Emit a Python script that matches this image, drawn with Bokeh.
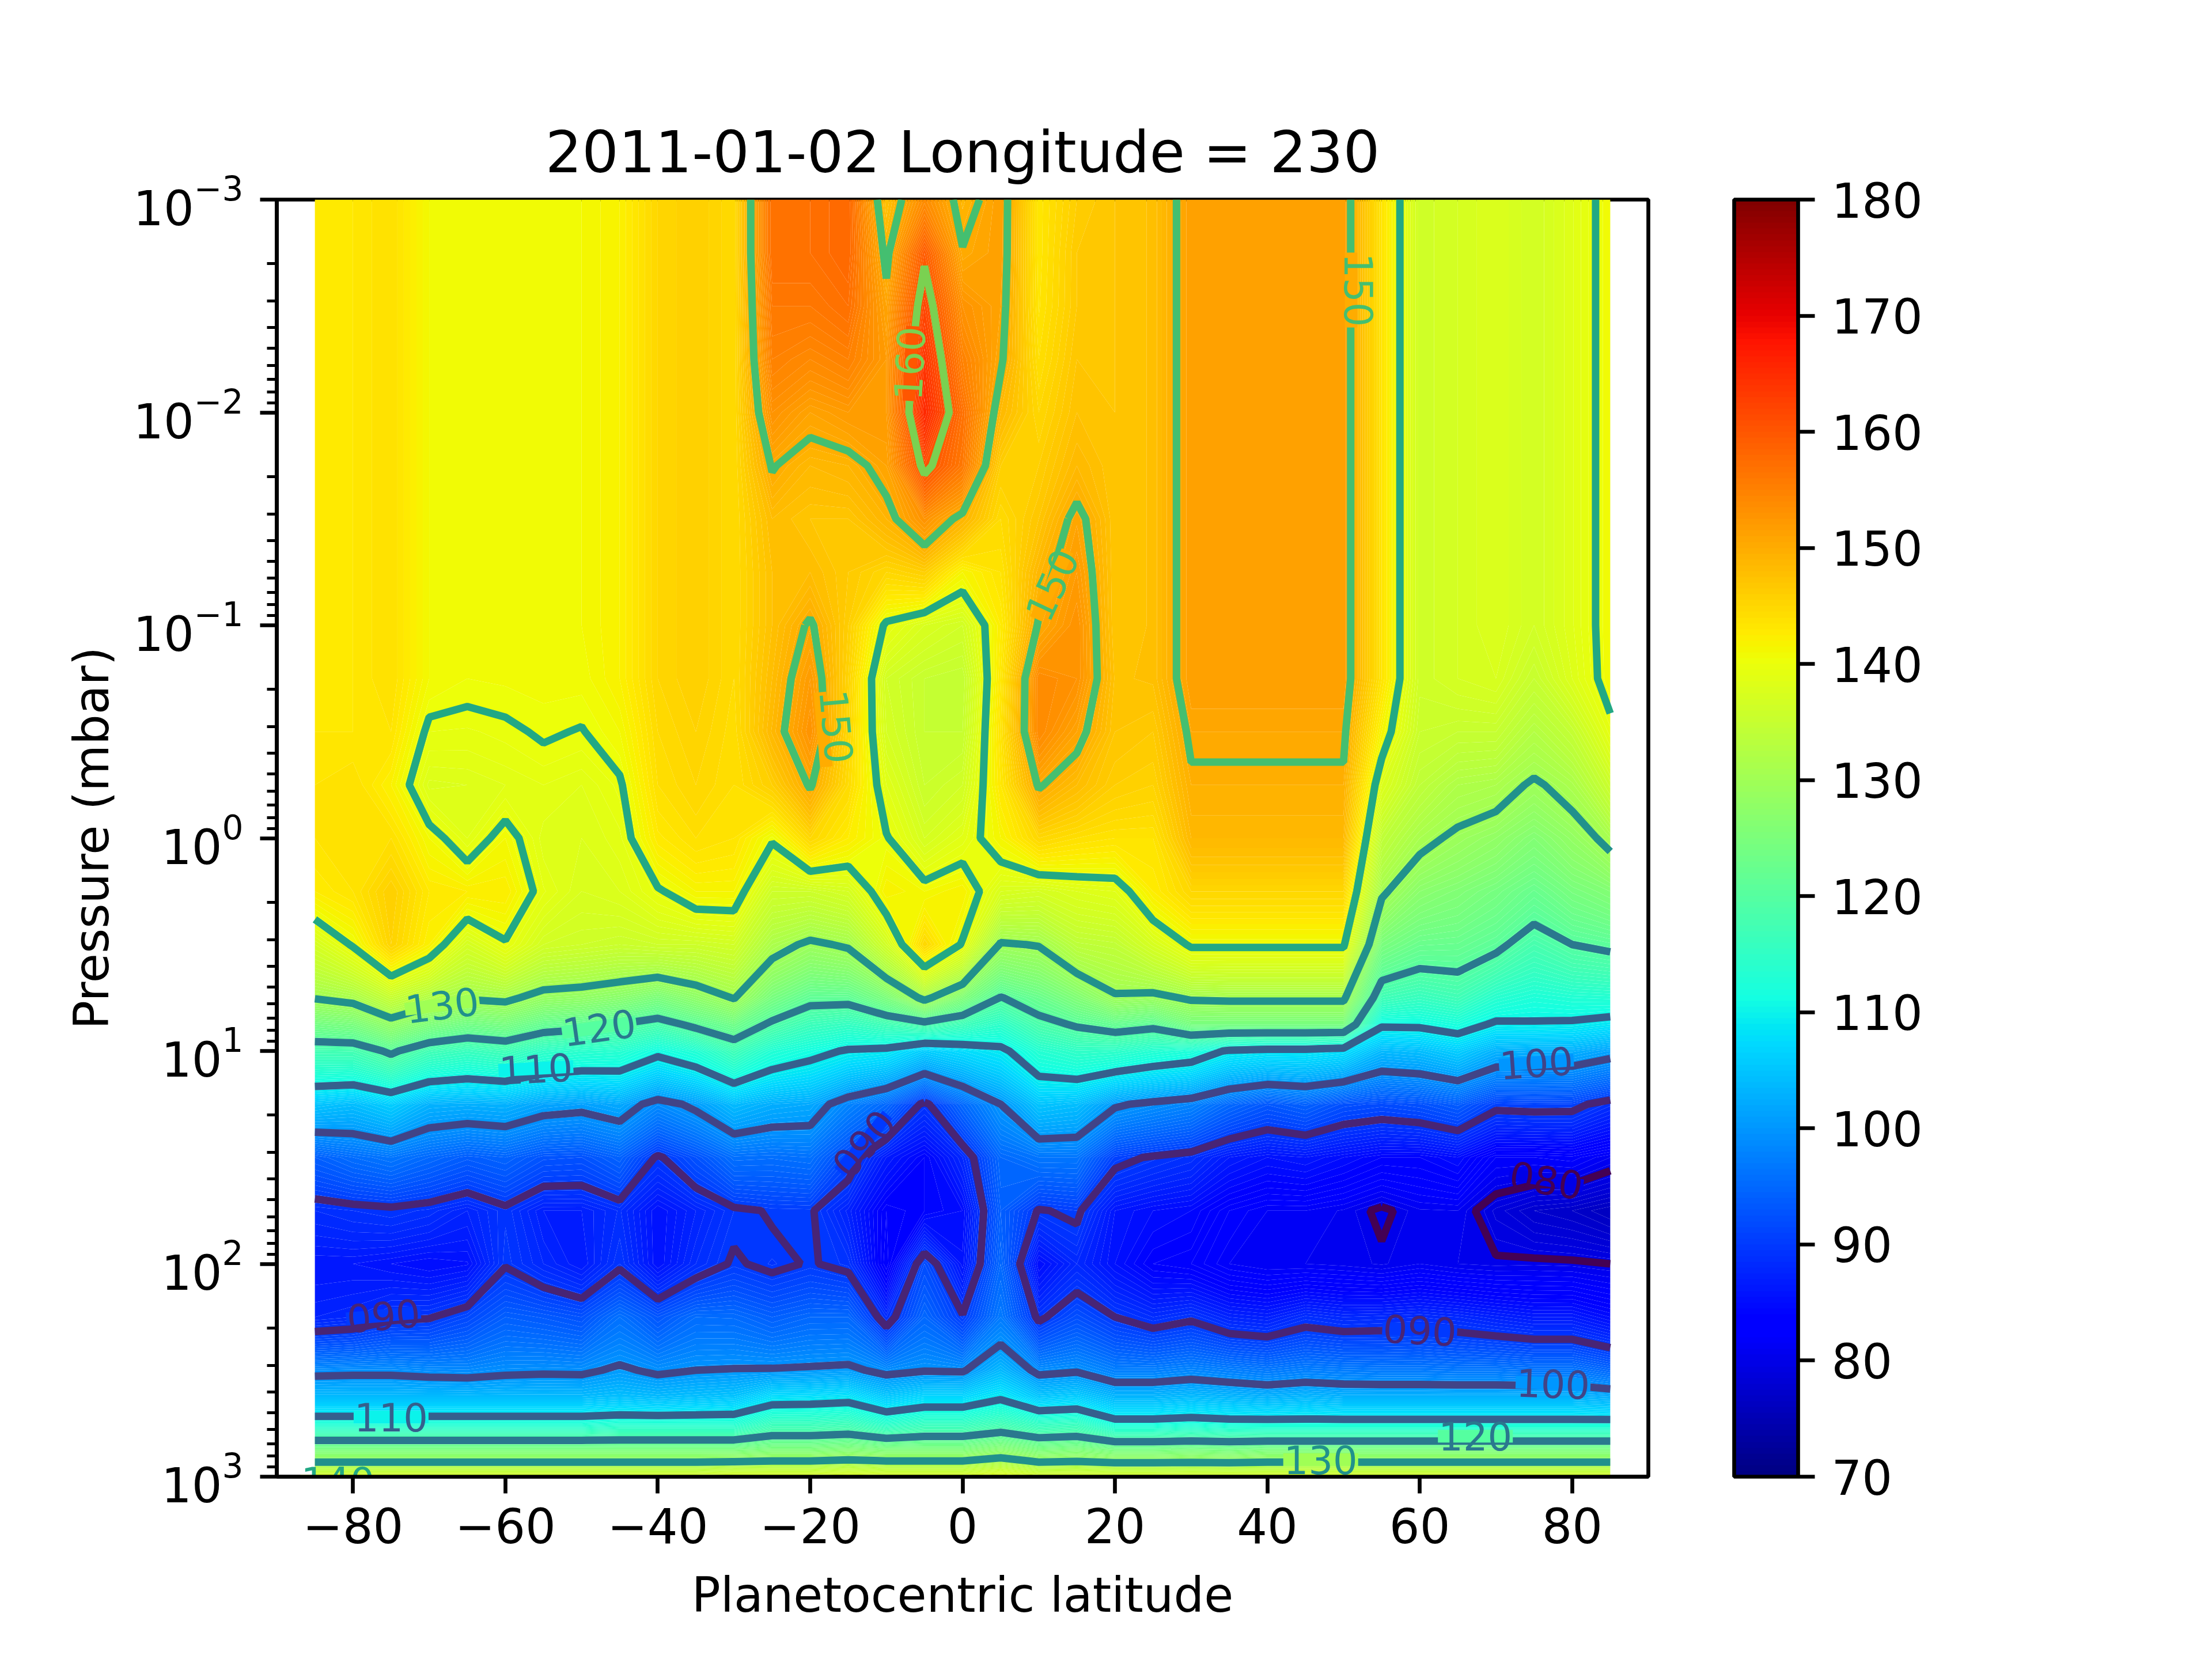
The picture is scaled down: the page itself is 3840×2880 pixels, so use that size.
from bokeh.core.properties import value
from bokeh.embed import file_html
from bokeh.models import ColorBar, ColumnDataSource, FixedTicker, LinearColorMapper, Range1d
from bokeh.plotting import figure
from bokeh.resources import INLINE
import numpy as np

# planetocentric latitude of each column
lats = [-85, -80, -75, -70, -65, -60, -55, -50, -45, -40, -35, -30, -25, -20, -15, -10, -5, 0,
        5, 10, 15, 20, 25, 30, 35, 40, 45, 50, 55, 60, 65, 70, 75, 80, 85]
# log10(pressure in mbar) of each row
log_p = [-3, -2.75, -2.5, -2.25, -2, -1.75, -1.5, -1.25, -1, -0.75, -0.5, -0.25, 0, 0.25, 0.5, 0.75,
         0.875, 1, 1.25, 1.5, 1.75, 2, 2.25, 2.5, 2.625, 2.75, 2.875, 3]

# temperature (K), one list per latitude
t_m85 = [143, 143, 143, 143, 143, 143, 143, 143, 143, 143, 143, 143.5, 143.5, 142.5, 137, 130.2, 124, 117.5, 105, 94, 88.5, 86, 87.5, 99, 104, 112.5, 125, 137]
t_m80 = [143, 143, 143, 143, 143, 143, 143, 143, 143, 143, 143, 144, 144, 143.5, 140.3, 131.2, 124.8, 117.6, 104.2, 95.5, 89, 86, 88, 99.2, 104, 112.5, 125, 137]
t_m75 = [144, 144, 144, 144, 144, 144, 144, 144, 144, 144, 143.5, 142, 144, 146, 145.5, 135, 128.2, 120.7, 106, 96.5, 89.4, 85.5, 89.5, 99.2, 104, 112.5, 125, 137]
t_m70 = [141, 141, 141, 141, 141, 141, 141, 141, 141, 141, 139.5, 137.8, 141, 143, 142, 132.2, 125.3, 117.2, 103, 95, 88.8, 85, 89.8, 98.8, 104, 112.5, 125, 137]
t_m65 = [141, 141, 141, 141, 141, 141, 141, 141, 141, 140.5, 139.4, 138, 138.5, 142.5, 136.9, 130.4, 123.6, 116, 102.7, 93.7, 87.5, 85.4, 91.5, 98.6, 104, 112.5, 125, 137]
t_m60 = [141, 141, 141, 141, 141, 141, 141, 141, 141, 140.6, 139.7, 138.5, 141, 142.5, 139.7, 130.9, 124.4, 117, 103, 94.5, 89.4, 89.8, 94, 99.2, 104, 112.5, 125, 137]
t_m55 = [140.8, 140.8, 140.8, 140.8, 140.8, 140.8, 140.8, 140.8, 140.8, 140.7, 140.2, 139, 138.2, 139.1, 136.5, 128.5, 122, 114.8, 101.5, 92.7, 87, 88, 93.4, 99.4, 104, 112.5, 125, 137]
t_m50 = [141, 141, 141, 141, 141, 141, 141, 141, 141, 140.7, 139.9, 138.5, 138, 137.5, 136, 128, 121.3, 114, 101, 92.5, 87, 86.5, 92.5, 99.3, 104, 112.5, 125, 137]
t_m45 = [142, 142, 142, 142, 142, 142, 142, 142, 142, 142, 141, 139.7, 138.8, 138, 135.5, 126.9, 119.9, 113.6, 102, 94.4, 88.6, 89.5, 96, 100.6, 104.5, 113, 125, 137]
t_m40 = [145, 145, 145, 145, 145, 145, 145, 145, 145, 145, 144.5, 144, 142.8, 139.7, 136, 125, 118.3, 111, 98.6, 89.6, 85.5, 85.5, 93, 99.3, 104, 113, 125, 137]
t_m35 = [146, 146, 146, 146, 146, 146, 146, 146, 146, 146, 145.5, 145, 144, 141.5, 136, 127.5, 121, 113, 100.8, 92.5, 87.5, 88.5, 95.5, 100, 104.5, 113, 125, 137]
t_m30 = [144.5, 144.5, 144.5, 144.5, 144.5, 144.5, 144.5, 144.5, 144.5, 144.5, 144.2, 144, 143.5, 141.5, 136.5, 130.2, 123.5, 117, 104, 95.8, 89.5, 90.3, 95.4, 100.2, 105, 113, 125, 137.5]
t_m25 = [157, 157, 156, 155, 153, 150.2, 148, 147.5, 147.5, 148, 148.6, 146, 140.3, 136, 131.5, 124.5, 119.2, 113, 102.5, 95.6, 90.2, 89.4, 94, 100.3, 107.8, 116, 125.5, 137.5]
t_m20 = [157, 157, 156, 154, 151, 148.5, 147, 148, 150.4, 152, 153, 150.3, 145, 136, 129.3, 121.3, 116.5, 111.3, 102, 96, 90.3, 90.2, 95, 100.5, 108, 116, 125.5, 137.5]
t_m15 = [158, 158, 157, 155, 152, 149, 147, 146.5, 146, 145.5, 145.1, 144.5, 142.5, 137, 130.5, 121.3, 115.5, 109.6, 98, 91.5, 87.3, 89.3, 95, 100.8, 108.5, 116.5, 126, 138]
t_m10 = [147.5, 149.3, 151, 152, 152, 151, 149, 145, 139.5, 136.5, 137, 138.5, 140.2, 142, 136.5, 125, 117.1, 109, 95, 86.5, 83, 82.5, 88.5, 99, 105.5, 114, 125.5, 137.5]
t_m05 = [153.7, 159.5, 162, 164, 165.5, 161, 153, 146, 137.5, 135, 135, 135.5, 137, 141, 145, 131, 118.7, 105.9, 89.3, 84, 84, 92, 95, 99.8, 107, 115.5, 125.5, 137.5]
t_p00 = [148.8, 150.2, 153, 155, 157, 156, 149, 141.5, 136.5, 134.5, 135, 136.5, 138.7, 142, 139.7, 125.6, 116.7, 107.5, 95, 88, 85, 85.7, 90.3, 99.6, 107, 115.5, 125.5, 137.5]
t_p05 = [151.5, 151.4, 151, 150.4, 148.5, 146, 144.5, 143.5, 142.5, 143, 143.5, 143, 141.5, 137.5, 129.6, 119.8, 114.5, 109, 100, 95, 94, 95, 97, 103.8, 109.3, 117, 127, 138.5]
t_p10 = [143.2, 143.2, 143.4, 144, 145, 146, 147, 148.8, 150.3, 154, 154, 150.3, 145, 137, 130.2, 122.5, 118.5, 113.4, 105, 96.5, 89.8, 85, 89.4, 99, 105.3, 115, 125, 137]
t_p15 = [146, 146.5, 146.5, 147, 147.5, 148.5, 150.9, 152, 153, 153, 151, 148, 144, 138, 133.8, 125.7, 120.5, 114.9, 104.3, 96.5, 90.5, 88, 92.3, 99.6, 106, 115.5, 125.5, 137]
t_p20 = [147, 147, 147, 147, 147, 147, 147, 147, 147, 147.4, 147, 146, 143.5, 138.5, 134.3, 129.5, 122, 114.6, 100.5, 90.8, 86, 85.5, 90, 97.5, 103.5, 111.5, 124.5, 137]
t_p25 = [147.6, 147.6, 147.6, 147.6, 147.6, 147.6, 147.6, 147.6, 147.6, 147.6, 146.5, 145.5, 143.5, 142.5, 137.2, 129, 121.1, 113.3, 99.2, 89.7, 85, 83.5, 88.5, 97.5, 103.5, 111.5, 124.5, 137]
t_p30 = [151.5, 151.5, 151.5, 151.5, 151.5, 151.5, 151.5, 151.5, 151.5, 151.5, 150.5, 149.5, 148.5, 145, 140.4, 130.5, 124.5, 112.4, 98, 88.8, 84.5, 83, 89.5, 98.2, 104, 112, 124.8, 137]
t_p35 = [151.5, 151.5, 151.5, 151.5, 151.5, 151.5, 151.5, 151.5, 151.5, 151.5, 150.5, 149.5, 148.5, 145, 140.4, 130.7, 124.5, 109.5, 95, 86.5, 82.5, 81.5, 87.5, 97.5, 103.5, 111.5, 124.5, 137]
t_p40 = [151.5, 151.5, 151.5, 151.5, 151.5, 151.5, 151.5, 151.5, 151.5, 151.5, 150.5, 149.5, 148.5, 145, 140.4, 130.7, 124.5, 108.8, 93.1, 85.5, 81.5, 81, 87, 96.8, 103, 111.5, 125, 137]
t_p45 = [151.5, 151.5, 151.5, 151.5, 151.5, 151.5, 151.5, 151.5, 151.5, 151.5, 150.5, 149.5, 148.5, 145, 140.4, 130.7, 124.5, 108.8, 94.2, 86, 81.5, 81, 88.7, 97.5, 103.5, 111.5, 125, 137]
t_p50 = [151.5, 151.5, 151.5, 151.5, 151.5, 151.5, 151.5, 151.5, 151.5, 151.5, 150.5, 149.5, 148.5, 145, 140.4, 130.7, 124.5, 108, 92.3, 85, 80.9, 80.8, 88, 97.2, 103, 111.5, 125, 137]
t_p55 = [143.5, 143.5, 143.5, 143.5, 143.5, 143.5, 143.5, 143.5, 143.5, 143.5, 141.5, 138, 134.2, 130.6, 124.8, 117, 110.6, 103.8, 91.8, 84, 79.6, 80.4, 88.2, 97, 103, 111.5, 125, 137]
t_p60 = [136.2, 136.2, 136.2, 136.2, 136.2, 136.2, 136.2, 136.2, 136.2, 136.2, 135.5, 134, 131, 127, 122.6, 115.8, 110.7, 104.3, 92.4, 84, 80.9, 81, 88.5, 97, 103, 111.5, 125, 137]
t_p65 = [137, 137, 137, 137, 137, 137, 137, 137, 137, 137, 135, 132, 129.3, 125.8, 122.4, 117, 111.9, 106, 93.7, 85, 81, 80.5, 88, 96.8, 103, 111.5, 125, 137]
t_p70 = [138, 138, 138, 138, 138, 138, 138, 138, 138, 137.5, 135, 131.5, 128, 124.3, 120.9, 113.7, 109.4, 103, 90.8, 82, 78.8, 80.3, 87.2, 96.8, 103, 111.5, 125, 137]
t_p75 = [136.5, 136.5, 136.5, 136.5, 136.5, 136.5, 136.5, 136.5, 136.5, 135, 132.5, 129.5, 126, 122.4, 118, 112.4, 109.6, 102.7, 91, 82, 77.5, 80.4, 86.5, 96.5, 103, 111.5, 125, 137]
t_p80 = [138.4, 138.4, 138.4, 138.4, 138.4, 138.4, 138.4, 138.4, 138.4, 138, 134.7, 131.3, 128.2, 124.6, 120, 113, 109.4, 102.7, 90.9, 82.3, 77, 80.3, 86.5, 96.5, 103, 111.5, 125, 137]
t_p85 = [141, 141, 141, 141, 141, 141, 141, 141, 141, 141, 139.3, 135.7, 131, 126, 120.8, 113.2, 108.5, 101.4, 88.7, 81, 76, 80, 85, 94.9, 102.5, 111.5, 125, 137]

temps = np.array([t_m85, t_m80, t_m75, t_m70, t_m65, t_m60, t_m55, t_m50, t_m45, t_m40, t_m35, t_m30,
                  t_m25, t_m20, t_m15, t_m10, t_m05, t_p00, t_p05, t_p10, t_p15, t_p20, t_p25, t_p30,
                  t_p35, t_p40, t_p45, t_p50, t_p55, t_p60, t_p65, t_p70, t_p75, t_p80, t_p85]).T

# contour levels and their line colours
line_levels = [80, 90, 100, 110, 120, 130, 140, 150, 160]
line_colors = ["#440154", "#482475", "#414487", "#355f8d", "#2a788e", "#21918c", "#22a884", "#44bf70", "#7ad151"]

# inline contour labels, with where the gap in the line sits
label_lat = [-68.3, -47.7, -56, 75.3, -13, 76.6, -76, 60, 77.5, -75, 67.3, 47, -82, -16.5, -7, 11.7, 52]
label_logp = [0.783, 0.889, 1.082, 1.055, 1.434, 1.606, 2.243, 2.31, 2.562, 2.72, 2.81, 2.92, 3.02, -0.524, -2.23, -1.19, -2.575]
label_level = [130, 120, 110, 100, 90, 80, 90, 90, 100, 110, 120, 130, 140, 150, 160, 150, 150]
label_angle = [7, 8, 3, 4, 50, -9, 5, -3, -2, 0, 0, 0, 0, -85, 87, 65, -90]
gap_lat = [-68.3, -47.7, -56, 75.3, -13, 76.6, -76, 60, 77.5, -75, 67.3, 47, -82, -18.3, -6.8, 11.7, 51]
gap_logp = [0.783, 0.889, 1.082, 1.055, 1.434, 1.606, 2.243, 2.31, 2.562, 2.72, 2.81, 2.92, 3.02, -0.51, -2.23, -1.19, -2.575]

x_ticks = [-80, -60, -40, -20, 0, 20, 40, 60, 80]
bar_ticks = [70, 80, 90, 100, 110, 120, 130, 140, 150, 160, 170, 180]


def jet(frac):
    r = np.interp(frac, [0, 0.35, 0.66, 0.89, 1], [0, 0, 1, 1, 0.5])
    g = np.interp(frac, [0, 0.125, 0.375, 0.64, 0.91, 1], [0, 0, 1, 1, 0, 0])
    b = np.interp(frac, [0, 0.11, 0.34, 0.65, 1], [0.5, 1, 1, 0, 0])
    return "#%02x%02x%02x" % (int(r * 255), int(g * 255), int(b * 255))


FONT = "DejaVu Sans"
fill_levels = [70 + i * 0.5 for i in range(221)]
fill_colors = [jet((l + 0.25 - 70) / 110) for l in fill_levels[:-1]]
pressures = [10.0 ** v for v in log_p]

p = figure(frame_width=2381, frame_height=2217, min_border_left=480, min_border_right=963,
           min_border_top=346, min_border_bottom=301, x_range=Range1d(-90, 90),
           y_range=Range1d(1000, 0.001), y_axis_type="log", output_backend="svg", toolbar_location=None,
           title="2011-01-02 Longitude = 230", x_axis_label="Planetocentric latitude",
           y_axis_label="Pressure (mbar)")
p.grid.visible = False
p.outline_line_color = "black"
p.outline_line_width = 6.67
p.title.align = "center"
p.title.text_font = FONT
p.title.text_font_size = "75pt"
p.title.text_font_style = "normal"
p.title.text_color = "black"
p.title.standoff = 47

filled = p.contour(lats, pressures, temps, levels=fill_levels, fill_color=fill_colors, line_color=None)
# same colour outline so the bands leave no seams
filled.fill_renderer.glyph.line_color = filled.fill_renderer.glyph.fill_color
filled.fill_renderer.glyph.line_width = 1.5
lines = p.contour(lats, pressures, temps, levels=line_levels, fill_color=None, line_color=line_colors, line_width=13)

for axis in [p.xaxis[0], p.yaxis[0]]:
    axis.axis_line_width = 6.67
    axis.major_tick_line_width = 6.67
    axis.major_tick_out = 29
    axis.major_tick_in = 0
    axis.minor_tick_line_width = 5
    axis.minor_tick_out = 17
    axis.minor_tick_in = 0
    axis.major_label_standoff = 29
    axis.major_label_text_font = FONT
    axis.major_label_text_font_size = "83px"
    axis.major_label_text_color = "black"
    axis.axis_label_text_font = FONT
    axis.axis_label_text_font_size = "83px"
    axis.axis_label_text_font_style = "normal"
    axis.axis_label_text_color = "black"

p.xaxis[0].ticker = FixedTicker(ticks=x_ticks)
p.xaxis[0].major_label_overrides = {v: str(v).replace("-", "\u2212") for v in x_ticks}
p.xaxis[0].major_label_standoff = 24
p.xaxis[0].axis_label_standoff = 39
p.yaxis[0].axis_label_standoff = 20
p.yaxis[0].ticker.num_minor_ticks = 10
p.yaxis[0].major_label_orientation = "horizontal"
p.yaxis[0].major_label_text_line_height = 1.0

labels = ColumnDataSource(data=dict(
    x=label_lat,
    y=[10.0 ** v for v in label_logp],
    gap_x=gap_lat,
    gap_y=[10.0 ** v for v in gap_logp],
    text=["%03d" % l for l in label_level],
    angle=label_angle,
    color=[line_colors[line_levels.index(l)] for l in label_level],
    back=[jet((l - 70) / 110) for l in label_level],
))
# a thin strip in the local field colour opens the gap in the contour line under each label
p.rect("gap_x", "gap_y", width=130, height=22, width_units="screen", height_units="screen", angle="angle",
       angle_units="deg", source=labels, fill_color="back", line_color=None)
p.text("x", "y", text="text", angle="angle", angle_units="deg", source=labels, text_color="color",
       text_font=value(FONT), text_font_size="67px", text_align="center", text_baseline="middle")

bar = ColorBar(color_mapper=LinearColorMapper(palette=fill_colors, low=70, high=180),
               ticker=FixedTicker(ticks=bar_ticks), width=111, location=(149, 0), margin=0, padding=0,
               bar_line_color="black", bar_line_width=6.67, border_line_color=None,
               background_fill_color=None, major_tick_line_color="black", major_tick_line_width=6.67,
               major_tick_in=0, major_tick_out=29, minor_tick_line_color=None, label_standoff=29,
               major_label_text_font=FONT, major_label_text_font_size="83px",
               major_label_text_color="black")
p.add_layout(bar, "right")

open("out.html", "w").write(file_html(p, INLINE))
